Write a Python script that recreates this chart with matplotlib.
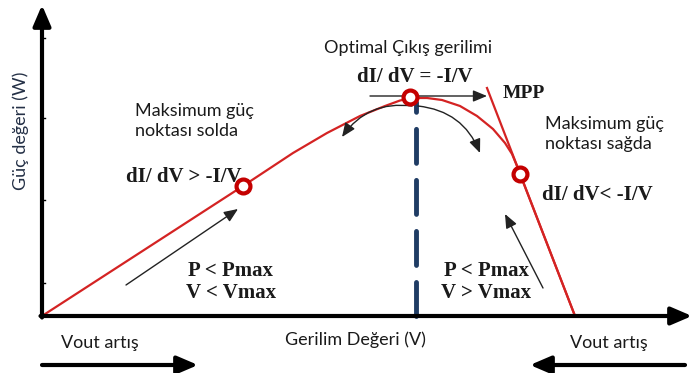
import matplotlib.pyplot as plt

# P-V curve (voltage units, power units)
volt = [0, 201, 251, 285, 318, 343, 358, 370, 385, 400, 418, 435, 451, 463, 470, 475, 478, 533]
power = [0, 130, 163, 183, 200, 210, 215.5, 218, 218, 216, 210, 200, 187, 173, 162, 150, 142, 0]

# operating points (left, MPP, right)
pts_v = [201, 368, 478]
pts_p = [130, 219, 142]

# tangent line at MPP
tan_v = [445, 533]
tan_p = [228, 0]

# optimal voltage marker
vopt = 374
vopt_top = 214

ytick_p = [33, 116, 198, 278]

sans = ["Lato", "DejaVu Sans"]
serif = ["Liberation Serif", "DejaVu Serif"]
txt = "#1a1a1a"

fig = plt.figure(figsize=(6.92, 3.73), dpi=100)
ax = fig.add_axes([0, 0, 1, 1])
ax.set_xlim(-42, 650)
ax.set_ylim(-57, 316)
ax.axis("off")

# axes with arrows
ax.annotate("", xy=(650, 0), xytext=(-1.5, 0),
            arrowprops=dict(arrowstyle="-|>,head_length=0.7,head_width=0.3",
                            color="black", lw=3, mutation_scale=18, shrinkA=0, shrinkB=0))
ax.annotate("", xy=(0, 311), xytext=(0, -1.5),
            arrowprops=dict(arrowstyle="-|>,head_length=0.7,head_width=0.3",
                            color="black", lw=3, mutation_scale=18, shrinkA=0, shrinkB=0))
for t in ytick_p:
    ax.plot([0, 3], [t, t], color="black", lw=1)

# curve, tangent, dashed line
ax.plot(volt, power, color="#d42323", lw=1.6, solid_joinstyle="round")
ax.plot(tan_v, tan_p, color="#d42323", lw=1.6)
ax.plot([vopt, vopt], [0, vopt_top], color="#1f3c64", lw=3.5,
        dashes=(7, 3.5), dash_capstyle="round")

ax.plot(pts_v, pts_p, "o", ms=10, mfc="white", mec="#c40000", mew=3, zorder=5)

# small arrows
thin = dict(arrowstyle="-|>,head_length=0.6,head_width=0.25", color="#222222",
            lw=1, mutation_scale=14, shrinkA=0, shrinkB=0)
ax.annotate("", xy=(445, 220), xytext=(328, 220), arrowprops=thin)
ax.annotate("", xy=(300, 179), xytext=(370, 210),
            arrowprops=dict(thin, connectionstyle="arc3,rad=0.3"))
ax.annotate("", xy=(438, 163), xytext=(376, 210),
            arrowprops=dict(thin, connectionstyle="arc3,rad=-0.3"))
ax.annotate("", xy=(196, 107), xytext=(84, 31), arrowprops=thin)
ax.annotate("", xy=(463, 102), xytext=(501, 28), arrowprops=thin)

# bottom arrows
thick = dict(arrowstyle="-|>,head_length=0.7,head_width=0.3", color="black",
             lw=3, mutation_scale=18, shrinkA=0, shrinkB=0)
ax.annotate("", xy=(156, -49), xytext=(0, -49), arrowprops=thick)
ax.annotate("", xy=(488, -49), xytext=(643, -49), arrowprops=thick)

# labels
ax.text(-21, 185, "Güç değeri (W)", rotation=90, ha="center", va="center",
        fontsize=13, color="#243046", family=sans)
ax.text(93, 195, "Maksimum güç\nnoktası solda", ha="left", va="center",
        fontsize=13, color=txt, family=sans, linespacing=1.25)
ax.text(503, 182, "Maksimum güç\nnoktası sağda", ha="left", va="center",
        fontsize=13, color=txt, family=sans, linespacing=1.25)
ax.text(366, 268, "Optimal Çıkış gerilimi", ha="center", va="center",
        fontsize=13, color=txt, family=sans)
ax.text(313, -24, "Gerilim Değeri (V)", ha="center", va="center",
        fontsize=13, color=txt, family=sans)
ax.text(58, -27, "Vout artış", ha="center", va="center",
        fontsize=13, color=txt, family=sans)
ax.text(567, -27, "Vout artış", ha="center", va="center",
        fontsize=13, color=txt, family=sans)

ax.text(84, 139, "dI/ dV > -I/V", ha="left", va="center", fontsize=15,
        fontweight="bold", color=txt, family=serif)
ax.text(373, 239, "dI/ dV = -I/V", ha="center", va="center", fontsize=15,
        fontweight="bold", color=txt, family=serif)
ax.text(500, 121, "dI/ dV< -I/V", ha="left", va="center", fontsize=15,
        fontweight="bold", color=txt, family=serif)
ax.text(461, 223, "MPP", ha="left", va="center", fontsize=14,
        fontweight="bold", color=txt, family=serif)
ax.text(189, 34, "P < Pmax\nV < Vmax", ha="center", va="center", fontsize=15,
        fontweight="bold", color=txt, family=serif, linespacing=1.1)
ax.text(444, 34, "P < Pmax\nV > Vmax", ha="center", va="center", fontsize=15,
        fontweight="bold", color=txt, family=serif, linespacing=1.1)

fig.savefig("out.png", dpi=100)
